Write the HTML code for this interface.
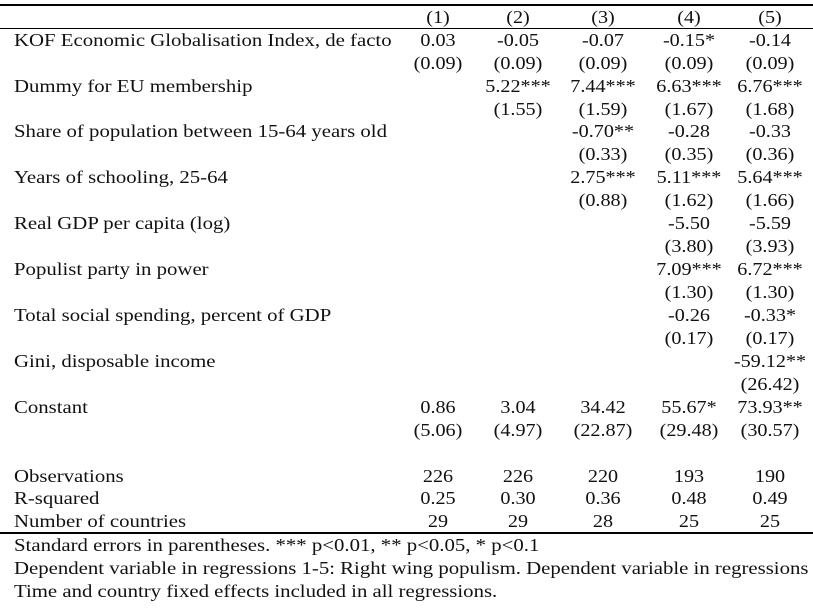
<!DOCTYPE html><html><head><style>
body{margin:0;width:813px;height:610px;background:#fff;position:relative;overflow:hidden;font-family:"Liberation Serif",serif;font-size:18px;color:#111}
.l{position:absolute;left:14px;white-space:nowrap;line-height:20px;transform:scaleX(1.155);transform-origin:0 50%}
.c{position:absolute;width:120px;margin-left:-60px;text-align:center;white-space:nowrap;line-height:20px;transform:scaleX(1.12);transform-origin:50% 50%}
.h{position:absolute;left:0;width:813px;background:#000}
</style></head><body>
<div class="h" style="top:4px;height:2px"></div>
<div class="h" style="top:28px;height:1px"></div>
<div class="h" style="top:532px;height:2px"></div>
<div id="t"></div>
<script>
var X=[438,518,603,689,770];
var rows=[
[17,"",["(1)","(2)","(3)","(4)","(5)"]],
[40,"KOF Economic Globalisation Index, de facto",["0.03","-0.05","-0.07","-0.15*","-0.14"]],
[63,"",["(0.09)","(0.09)","(0.09)","(0.09)","(0.09)"]],
[86,"Dummy for EU membership",["","5.22***","7.44***","6.63***","6.76***"]],
[109,"",["","(1.55)","(1.59)","(1.67)","(1.68)"]],
[131,"Share of population between 15-64 years old",["","","-0.70**","-0.28","-0.33"]],
[154,"",["","","(0.33)","(0.35)","(0.36)"]],
[177,"Years of schooling, 25-64",["","","2.75***","5.11***","5.64***"]],
[200,"",["","","(0.88)","(1.62)","(1.66)"]],
[223,"Real GDP per capita (log)",["","","","-5.50","-5.59"]],
[246,"",["","","","(3.80)","(3.93)"]],
[269,"Populist party in power",["","","","7.09***","6.72***"]],
[292,"",["","","","(1.30)","(1.30)"]],
[315,"Total social spending, percent of GDP",["","","","-0.26","-0.33*"]],
[338,"",["","","","(0.17)","(0.17)"]],
[361,"Gini, disposable income",["","","","","-59.12**"]],
[384,"",["","","","","(26.42)"]],
[407,"Constant",["0.86","3.04","34.42","55.67*","73.93**"]],
[430,"",["(5.06)","(4.97)","(22.87)","(29.48)","(30.57)"]],
[476,"Observations",["226","226","220","193","190"]],
[498,"R-squared",["0.25","0.30","0.36","0.48","0.49"]],
[521,"Number of countries",["29","29","28","25","25"]],
[545,"Standard errors in parentheses. *** p<0.01, ** p<0.05, * p<0.1",[]],
[568,"Dependent variable in regressions 1-5: Right wing populism. Dependent variable in regressions",[]],
[591,"Time and country fixed effects included in all regressions.",[]]
];
var h="";
rows.forEach(function(r){var y=r[0]-10;
if(r[1])h+='<div class="l" style="top:'+y+'px">'+r[1].replace(/</g,"&lt;")+'</div>';
r[2].forEach(function(v,i){if(v)h+='<div class="c" style="top:'+y+'px;left:'+X[i]+'px">'+v+'</div>';});});
document.getElementById("t").innerHTML=h;
</script>
</body></html>
